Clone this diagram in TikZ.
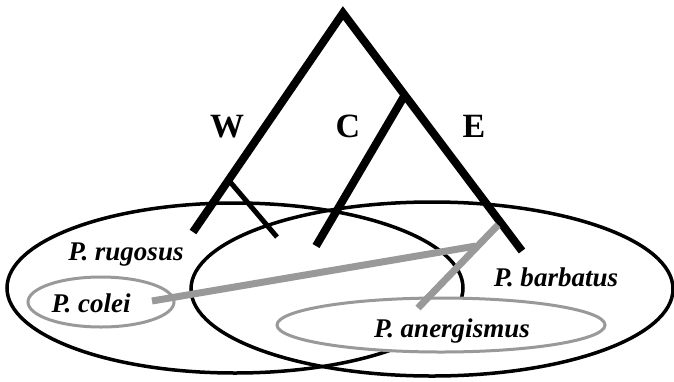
\documentclass[tikz,border=0pt]{standalone}
\usepackage{fontspec}
\setmainfont{Liberation Serif}
\usepackage{tikz}
\usetikzlibrary{calc}

\begin{document}
\begin{tikzpicture}[x=1pt,y=-1pt,line join=miter]
\useasboundingbox (0,0) rectangle (674,381);
% ranges
\draw[line width=3.5pt] (235,288) ellipse [x radius=228pt, y radius=85pt];
\draw[line width=3.5pt] (432,289) ellipse [x radius=241pt, y radius=87pt];
% tree
\coordinate (root) at (343,13);
\coordinate (wtip) at (193,232);
\coordinate (etip) at (522,251);
\coordinate (wsplit) at ($(root)!0.763!(wtip)$);
\coordinate (csplit) at ($(root)!0.345!(etip)$);
\coordinate (wtwo) at (277,237);
\coordinate (ctip) at (316,246);
\draw[line width=8pt] (wtip) -- (root) -- (etip);
\draw[line width=8pt] (csplit) -- (ctip);
\draw[line width=5pt] (wsplit) -- (wtwo);
% small ranges
\draw[black!40, line width=3pt] (101,302) ellipse [x radius=73pt, y radius=25pt];
\draw[black!40, line width=3pt, fill=white] (441,325) ellipse [x radius=164pt, y radius=27pt];
% hybrid links
\coordinate (cstart) at (152,301);
\coordinate (btop) at (498,225);
\coordinate (abot) at (418,308);
\coordinate (junc) at (476,246);
\draw[black!40, line width=7pt] (cstart) -- (junc);
\draw[black!40, line width=7pt] (btop) -- (abot);
% labels
\node[anchor=base, font=\fontsize{34}{34}\selectfont\bfseries] (W) at (227,137) {W};
\node[anchor=base, font=\fontsize{34}{34}\selectfont\bfseries] (C) at (348,137) {C};
\node[anchor=base, font=\fontsize{34}{34}\selectfont\bfseries] (E) at (474,137) {E};
\node[anchor=base, font=\fontsize{27}{27}\selectfont\bfseries\itshape] (rugosus) at (126,260) {P. rugosus};
\node[anchor=base, font=\fontsize{27}{27}\selectfont\bfseries\itshape] (colei) at (91,312) {P. colei};
\node[anchor=base, font=\fontsize{27}{27}\selectfont\bfseries\itshape] (barbatus) at (556,286) {P. barbatus};
\node[anchor=base, font=\fontsize{27}{27}\selectfont\bfseries\itshape] (anergismus) at (452,337) {P. anergismus};
\end{tikzpicture}
\end{document}
